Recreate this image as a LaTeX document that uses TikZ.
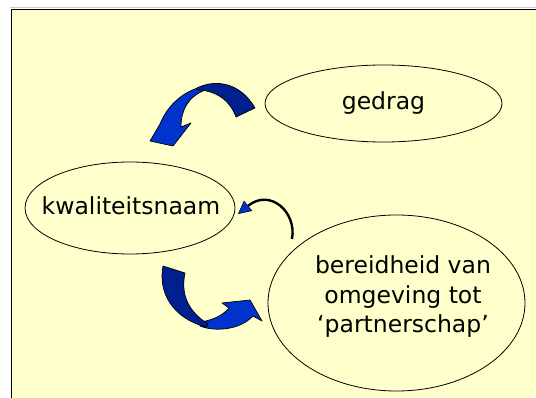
\documentclass[tikz,border=0pt]{standalone}
\usepackage{fontspec}
\setmainfont{DejaVu Sans}
\usetikzlibrary{arrows.meta,shapes.geometric}

\definecolor{paper}{HTML}{FFFFCC}
\definecolor{ribbon}{HTML}{0033CC}
\definecolor{ribbondark}{HTML}{002090}

\begin{document}
\begin{tikzpicture}[x=1pt, y=-1pt,
  blob/.style={draw, ellipse, inner sep=0pt, line width=0.8pt},
  word/.style={font=\fontsize{23.5}{29.5}\selectfont, align=center, inner sep=0pt},
  ribbonlight/.style={fill=ribbon, draw=black, line width=0.7pt, line join=round},
  ribbonshade/.style={fill=ribbondark, draw=black, line width=0.7pt, line join=round},
  returnarrow/.style={draw=black, line width=2.4pt,
    -{Triangle[length=13pt, width=13pt, line width=0.5pt, fill=ribbon]}}
]
\useasboundingbox (0,0) rectangle (536,398);
% slide frame
\fill[white] (0,0) rectangle (536,398);
\fill[paper] (11.5,9.5) rectangle (536,398);
\draw[gray!40, line width=0.6pt] (10,7.5) -- (536,7.5);
\draw[line width=1.8pt] (11.5,398) -- (11.5,9.5) -- (536,9.5);

\node[blob, minimum width=237, minimum height=77] (gedrag) at (383.5,103.5) {};
\node[word] (gedrag-txt) at (383.5,103) {gedrag};
\node[blob, minimum width=210, minimum height=92] (kwal) at (130,208) {};
\node[word] (kwal-txt) at (131,206) {kwaliteitsnaam};
\node[blob, minimum width=257, minimum height=176] (omgeving) at (396.5,303) {};
\node[word] (omgeving-txt) at (403,297) {bereidheid van\\omgeving tot\\‘partnerschap’};

% gedrag -> kwaliteitsnaam
\filldraw[ribbonlight] (150,141) -- (173,146) -- (191,123) -- (181,127)
  .. controls (181,110) and (188,97) .. (205,90) -- (205,86)
  .. controls (185,90) and (168,104) .. (160,124) -- cycle;
\filldraw[ribbonshade] (197,88) .. controls (215,79) and (240,82) .. (255,108)
  -- (236,117) .. controls (230,100) and (215,90) .. (197,90) -- cycle;

% kwaliteitsnaam -> omgeving
\filldraw[ribbonlight] (200,322) .. controls (215,320) and (224,314) .. (229,308)
  -- (222,303) -- (250,300) -- (262,321) -- (253,316)
  .. controls (240,330) and (215,332) .. (200,326) -- cycle;
\filldraw[ribbonshade] (163,266) -- (185,273) .. controls (181,292) and (186,310) .. (208,324)
  -- (206,327) .. controls (172,318) and (158,292) .. (163,266) -- cycle;

% omgeving -> kwaliteitsnaam
\coordinate (loopstart) at (292,239);
\coordinate (looptip) at (238,214);
\draw[returnarrow] (loopstart) .. controls (297,212) and (270,188) .. (looptip);
\end{tikzpicture}
\end{document}
